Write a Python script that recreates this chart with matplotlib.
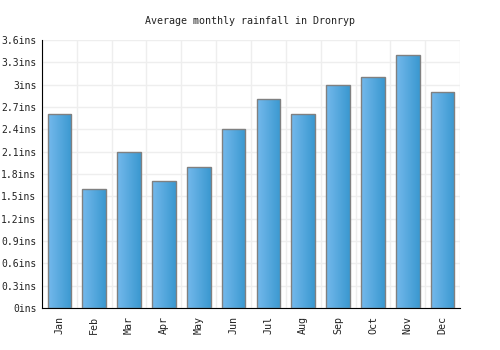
import numpy as np
import matplotlib
matplotlib.use("Agg")
import matplotlib.pyplot as plt
from matplotlib.colors import LinearSegmentedColormap

months = ["Jan", "Feb", "Mar", "Apr", "May", "Jun", "Jul", "Aug", "Sep", "Oct", "Nov", "Dec"]
rainfall = [2.6, 1.6, 2.1, 1.7, 1.9, 2.4, 2.8, 2.6, 3.0, 3.1, 3.4, 2.9]
yticks = [0, 0.3, 0.6, 0.9, 1.2, 1.5, 1.8, 2.1, 2.4, 2.7, 3.0, 3.3, 3.6]
ytick_labels = ["0ins", "0.3ins", "0.6ins", "0.9ins", "1.2ins", "1.5ins", "1.8ins",
                "2.1ins", "2.4ins", "2.7ins", "3ins", "3.3ins", "3.6ins"]

plt.rcParams["font.family"] = "DejaVu Sans Mono"

fig = plt.figure(figsize=(5, 3.5), dpi=100)
ax = fig.add_axes([0.084, 0.12, 0.836, 0.766])

x = np.arange(len(months))
width = 0.68
bars = ax.bar(x, rainfall, width=width, color="none", edgecolor="#808080", linewidth=1, zorder=3)

# horizontal gradient fill clipped to each bar
cmap = LinearSegmentedColormap.from_list("blue", ["#74b9ec", "#3a98d0"])
grad = np.linspace(0, 1, 100).reshape(1, -1)
for b in bars:
    bx, by = b.get_x(), b.get_y()
    bw, bh = b.get_width(), b.get_height()
    im = ax.imshow(grad, cmap=cmap, extent=[bx, bx + bw, by, by + bh],
                   aspect="auto", zorder=2)
    im.set_clip_path(b)

ax.set_xlim(-0.5, len(months) - 0.5)
ax.set_ylim(0, 3.6)
ax.set_yticks(yticks)
ax.set_yticklabels(ytick_labels, fontsize=7, color="#222222")
ax.set_xticks(x)
ax.set_xticklabels(months, rotation=90, fontsize=7.2, color="#222222")
ax.set_xticks(np.arange(-0.5, len(months), 1), minor=True)
ax.tick_params(axis="y", which="both", length=0, pad=4)
ax.tick_params(axis="x", which="both", length=0, pad=6)

ax.grid(True, axis="y", color="#eeeeee", linewidth=1, zorder=0)
ax.grid(True, axis="x", which="minor", color="#eeeeee", linewidth=1, zorder=0)
ax.set_axisbelow(True)

for s in ["top", "right"]:
    ax.spines[s].set_visible(False)
ax.spines["left"].set_color("black")
ax.spines["bottom"].set_color("black")

fig.suptitle("Average monthly rainfall in Dronryp", fontsize=7.2, y=0.955, color="#222222")

fig.savefig("out.png", dpi=100)
